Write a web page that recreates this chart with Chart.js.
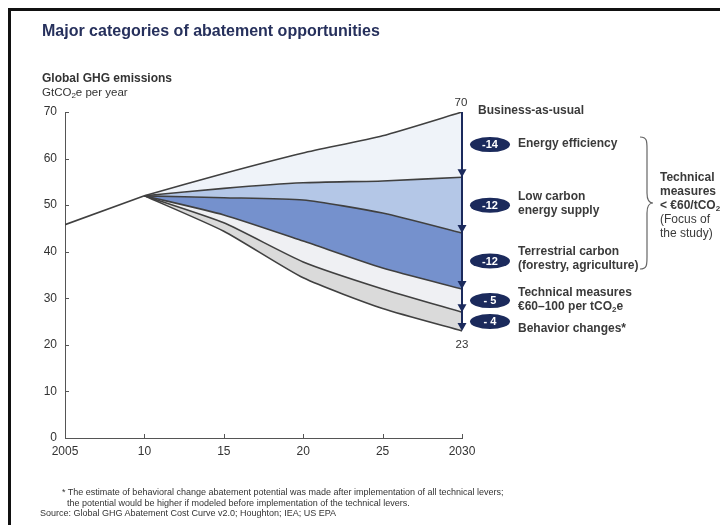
<!DOCTYPE html>
<html lang="en">

<head>
  <meta charset="UTF-8">
  <title>Major categories of abatement opportunities</title>
  <script src="https://cdn.jsdelivr.net/npm/chart.js"></script>
  <style>
    body { margin: 0; background: #fff; }
    .page {
      position: relative; width: 720px; height: 525px; overflow: hidden;
      font-family: "Liberation Sans", Arial, sans-serif; color: #333;
    }
    .frame {
      position: absolute; left: 8px; top: 8px; width: 720px; height: 525px;
      border-top: 3px solid #111; border-left: 3px solid #111;
    }
    canvas { position: absolute; left: 0; top: 0; }
    .txt { position: absolute; white-space: nowrap; line-height: 14px; }
    .title { left: 42px; top: 24px; font-size: 16px; font-weight: bold; color: #26305c; }
    .ytitle { left: 42px; top: 71px; font-size: 12px; line-height: 14px; }
    .lbl { font-size: 12px; font-weight: bold; color: #3a3a3a; }
    .note {
      font-family: "Liberation Sans Narrow", "Arial Narrow", "Liberation Sans", sans-serif;
      font-size: 9px; line-height: 10.5px; color: #333;
    }
    sub { font-size: 8px; vertical-align: -2px; line-height: 0; }
  </style>
</head>

<body>
  <div class="page">
    <canvas id="abatementChart" width="720" height="525"></canvas>
    <div class="frame"></div>
    <div class="txt title">Major categories of abatement opportunities</div>
    <div class="txt ytitle"><b>Global GHG emissions</b><br><span style="font-size:11.5px">GtCO<sub>2</sub>e per year</span></div>

    <div class="txt lbl" style="left:478px; top:103px;">Business-as-usual</div>
    <div class="txt lbl" style="left:518px; top:136px;">Energy efficiency</div>
    <div class="txt lbl" style="left:518px; top:189px;">Low carbon<br>energy supply</div>
    <div class="txt lbl" style="left:518px; top:244px;">Terrestrial carbon<br>(forestry, agriculture)</div>
    <div class="txt lbl" style="left:518px; top:285px;">Technical measures<br>€60–100 per tCO<sub>2</sub>e</div>
    <div class="txt lbl" style="left:518px; top:321px;">Behavior changes*</div>

    <svg style="position:absolute; left:637px; top:135px;" width="20" height="140">
      <path d="M3 2 C10 2 10 6 10 14 L10 58 C10 64 12 68 16 68 C12 68 10 72 10 78 L10 122 C10 130 10 134 3 134"
        fill="none" stroke="#666" stroke-width="1.2" />
    </svg>
    <div class="txt lbl" style="left:660px; top:170px;">Technical<br>measures<br>&lt; €60/tCO<sub>2</sub>e</div>
    <div class="txt" style="left:660px; top:212px; font-size:12px; color:#3a3a3a;">(Focus of<br>the study)</div>

    <div class="txt note" style="left:62px; top:487px;">* The estimate of behavioral change abatement potential was made after implementation of all technical levers;<br>&nbsp;&nbsp;the potential would be higher if modeled before implementation of the technical levers.</div>
    <div class="txt note" style="left:40px; top:508px;">Source: Global GHG Abatement Cost Curve v2.0; Houghton; IEA; US EPA</div>
  </div>

  <script>
    // history and the 2010-2030 scenarios (GtCO2e per year)
    const historyYears = [2005, 2010];
    const historyValues = [45.8, 52];
    const years = [2010, 2015, 2020, 2025, 2030];
    const businessAsUsual = [52, 56.8, 61.2, 64.9, 70];
    const afterEfficiency = [52, 53.6, 54.8, 55.2, 56];
    const afterLowCarbon = [52, 51.6, 51.1, 48.3, 44];
    const afterTerrestrial = [52, 47.9, 42.3, 36.5, 32];
    const afterTechnical = [52, 46.2, 37.8, 32, 27];
    const afterBehavior = [52, 44.4, 34.4, 27.8, 23];

    const reductionLabels = ['-14', '-12', '-12', '- 5', '- 4'];
    const xTickValues = [2005, 2010, 2015, 2020, 2025, 2030];
    const xTickLabels = ['2005', '10', '15', '20', '25', '2030'];
    const yTickValues = [0, 10, 20, 30, 40, 50, 60, 70];

    const bandColors = ['#eff3f9', '#b4c7e7', '#7591cd', '#eff0f3', '#dadada'];
    const lineColor = '#404040';
    const navy = '#1b2a5c';

    const scenarios = [businessAsUsual, afterEfficiency, afterLowCarbon, afterTerrestrial, afterTechnical, afterBehavior];

    function toPoints(xs, ys) {
      return xs.map((x, i) => ({ x: x, y: ys[i] }));
    }

    const datasets = scenarios.map((values, i) => ({
      data: toPoints(years, values),
      borderColor: lineColor,
      borderWidth: 1.6,
      pointRadius: 0,
      tension: 0.2,
      fill: i < bandColors.length ? '+1' : false,
      backgroundColor: bandColors[i] || 'transparent',
    }));
    datasets.push({
      data: toPoints(historyYears, historyValues),
      borderColor: lineColor,
      borderWidth: 1.6,
      pointRadius: 0,
      fill: false,
    });

    // inner tick marks on both axes
    const innerTicks = {
      id: 'innerTicks',
      afterDraw(chart) {
        const { ctx, chartArea, scales } = chart;
        ctx.save();
        ctx.strokeStyle = '#555';
        ctx.lineWidth = 1;
        yTickValues.forEach(v => {
          const y = Math.round(scales.y.getPixelForValue(v)) + 0.5;
          ctx.beginPath();
          ctx.moveTo(chartArea.left, y);
          ctx.lineTo(chartArea.left + 4, y);
          ctx.stroke();
        });
        xTickValues.forEach(v => {
          const x = Math.round(scales.x.getPixelForValue(v)) + 0.5;
          ctx.beginPath();
          ctx.moveTo(x, chartArea.bottom);
          ctx.lineTo(x, chartArea.bottom - 4);
          ctx.stroke();
        });
        ctx.restore();
      }
    };

    // arrow at 2030 with reduction pills
    const reductionArrow = {
      id: 'reductionArrow',
      afterDatasetsDraw(chart) {
        const { ctx, scales } = chart;
        const last = years.length - 1;
        const x = scales.x.getPixelForValue(years[last]);
        const ends = scenarios.map(s => s[last]);
        ctx.save();
        ctx.strokeStyle = navy;
        ctx.fillStyle = navy;
        ctx.lineWidth = 2;
        ctx.beginPath();
        ctx.moveTo(x, scales.y.getPixelForValue(ends[0]));
        ctx.lineTo(x, scales.y.getPixelForValue(ends[ends.length - 1]) - 2);
        ctx.stroke();
        for (let i = 1; i < ends.length; i++) {
          const y = scales.y.getPixelForValue(ends[i]);
          ctx.beginPath();
          ctx.moveTo(x, y);
          ctx.lineTo(x - 4.5, y - 8);
          ctx.lineTo(x + 4.5, y - 8);
          ctx.closePath();
          ctx.fill();
        }
        // pills
        ctx.font = 'bold 11px "Liberation Sans", Arial, sans-serif';
        ctx.textAlign = 'center';
        ctx.textBaseline = 'middle';
        for (let i = 0; i < reductionLabels.length; i++) {
          const y = scales.y.getPixelForValue((ends[i] + ends[i + 1]) / 2);
          const cx = x + 28;
          ctx.fillStyle = navy;
          ctx.beginPath();
          ctx.ellipse(cx, y, 20, 7.5, 0, 0, Math.PI * 2);
          ctx.fill();
          ctx.fillStyle = '#fff';
          ctx.fillText(reductionLabels[i], cx, y + 0.5);
        }
        // start and end values
        ctx.fillStyle = '#333';
        ctx.font = '11.5px "Liberation Sans", Arial, sans-serif';
        ctx.fillText(String(ends[0]), x - 1, scales.y.getPixelForValue(ends[0]) - 9);
        ctx.fillText(String(ends[ends.length - 1]), x, scales.y.getPixelForValue(ends[ends.length - 1]) + 14);
        ctx.restore();
      }
    };

    Chart.defaults.font.family = '"Liberation Sans", Arial, sans-serif';

    const ctx = document.getElementById('abatementChart').getContext('2d');
    new Chart(ctx, {
      type: 'line',
      data: { datasets: datasets },
      options: {
        responsive: false,
        animation: false,
        layout: { padding: { left: 0, top: 112, right: 258, bottom: 0 } },
        plugins: {
          legend: { display: false },
          tooltip: { enabled: false },
          filler: { drawTime: 'beforeDatasetsDraw' },
        },
        scales: {
          x: {
            type: 'linear',
            min: 2005,
            max: 2030,
            afterBuildTicks: scale => { scale.ticks = xTickValues.map(v => ({ value: v })); },
            afterFit: scale => { scale.height = 87; },
            ticks: {
              color: '#333',
              font: { size: 12 },
              padding: 6,
              maxRotation: 0,
              callback: v => xTickLabels[xTickValues.indexOf(v)],
            },
            grid: { display: false, drawTicks: false },
            border: { display: true, color: '#555', width: 1 },
          },
          y: {
            min: 0,
            max: 70,
            afterBuildTicks: scale => { scale.ticks = yTickValues.map(v => ({ value: v })); },
            afterFit: scale => { scale.width = 65; },
            ticks: { color: '#333', font: { size: 12 }, padding: 8 },
            grid: { display: false, drawTicks: false },
            border: { display: true, color: '#555', width: 1 },
          },
        },
      },
      plugins: [innerTicks, reductionArrow],
    });
  </script>
</body>

</html>
